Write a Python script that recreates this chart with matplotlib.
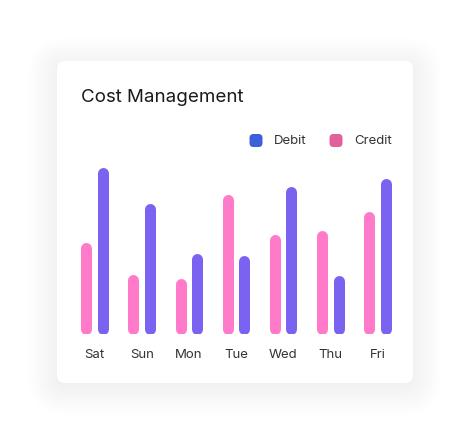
import matplotlib
matplotlib.use("Agg")
import matplotlib.pyplot as plt
from matplotlib.patches import FancyBboxPatch

days = ["Sat", "Sun", "Mon", "Tue", "Wed", "Thu", "Fri"]
credit = [92, 60, 56, 140, 100, 104, 123]
debit = [167, 131, 81, 79, 148, 59, 156]

W, H = 471, 447
pink = "#ff7ac8"
purple = "#7b62f1"

plt.rcParams["font.family"] = ["Inter", "DejaVu Sans"]

fig = plt.figure(figsize=(W / 100, H / 100), dpi=100)
fig.patch.set_facecolor("white")

# background axes in pixel coords for the card
bg = fig.add_axes([0, 0, 1, 1])
bg.set_xlim(0, W)
bg.set_ylim(H, 0)
bg.axis("off")

# soft shadow
for i in range(14):
    grow = 2 + i * 2.2
    bg.add_patch(FancyBboxPatch((57 - grow + 2, 62 - grow + 6), 356 + 2 * grow - 4, 322 + 2 * grow - 6,
                                boxstyle="round,pad=0,rounding_size=%f" % (8 + grow),
                                facecolor="#000000", edgecolor="none", alpha=0.003))
bg.add_patch(FancyBboxPatch((57, 61), 356, 322, boxstyle="round,pad=0,rounding_size=8",
                            facecolor="white", edgecolor="none"))

bg.text(81, 97.5, "Cost Management", fontsize=13.5, color="#1b1b1b", va="center", ha="left")

# legend
bg.add_patch(FancyBboxPatch((249.5, 134), 13, 13, boxstyle="round,pad=0,rounding_size=4",
                            facecolor="#3d5fd9", edgecolor="none"))
bg.text(274, 141, "Debit", fontsize=9.5, color="#333333", va="center", ha="left")
bg.add_patch(FancyBboxPatch((329.5, 134), 13, 13, boxstyle="round,pad=0,rounding_size=4",
                            facecolor="#e0609a", edgecolor="none"))
bg.text(354, 141, "Credit", fontsize=9.5, color="#333333", va="center", ha="left")

# chart axes, 1 data unit = 1 pixel vertically
left, right, top, bottom = 71, 401, 160, 334
ax = fig.add_axes([left / W, (H - bottom) / H, (right - left) / W, (bottom - top) / H])
ax.set_xlim(-0.5, 6.5)
ax.set_ylim(0, bottom - top)
ax.patch.set_alpha(0)
for s in ax.spines.values():
    s.set_visible(False)

r = 5.5  # cap radius in px
lw = 11 * 72 / 100
off = 0.177
for i in range(len(days)):
    ax.plot([i - off, i - off], [r, credit[i] - r], color=pink, lw=lw, solid_capstyle="round")
    ax.plot([i + off, i + off], [r, debit[i] - r], color=purple, lw=lw, solid_capstyle="round")

ax.set_xticks(range(len(days)))
ax.set_xticklabels(days, fontsize=9.5, color="#333333")
ax.tick_params(axis="x", length=0, pad=11)
ax.set_yticks([])

fig.savefig("out.png", dpi=100, facecolor="white")
